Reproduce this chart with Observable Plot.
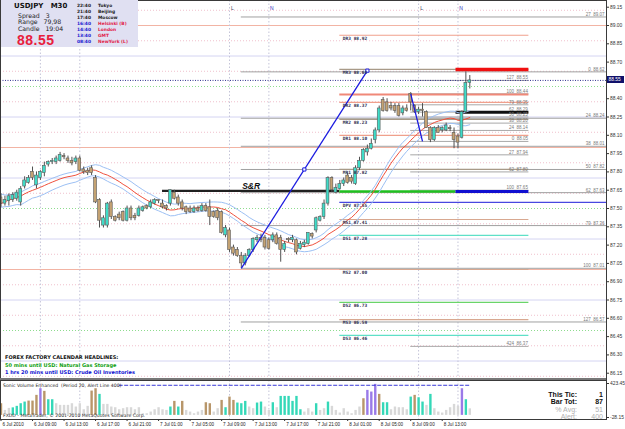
<!DOCTYPE html>
<html><head><meta charset="utf-8">
<script src="https://cdn.jsdelivr.net/npm/d3@7"></script>
<script src="https://cdn.jsdelivr.net/npm/@observablehq/plot@0.6"></script>
<style>
body{margin:0;background:#fff;width:625px;height:429px;overflow:hidden;position:relative;font-family:"Liberation Sans",Arial,sans-serif}
#main,#vol{position:absolute;left:0}
#main{top:0} #vol{top:380px}
.ov{position:absolute;white-space:pre;line-height:1}
.bx{position:absolute}
</style></head><body>
<div id="main"></div><div id="vol"></div>
<script>
// ---------- DATA ----------
const symbol = "USDJPY", timeframe = "M30";
const startTime = "2010-07-06T05:00:00Z"; // first bar, 30-minute bars
const opens = [87.59,87.54,87.56,87.57,87.58,87.55,87.68,87.71,87.80,87.69,
87.75,87.79,87.86,87.88,87.88,87.89,87.93,87.91,87.89,87.88,
87.91,87.82,87.81,87.83,87.75,87.57,87.36,87.36,87.55,87.43,
87.45,87.47,87.40,87.50,87.44,87.44,87.48,87.52,87.51,87.54,
87.57,87.54,87.52,87.54,87.63,87.59,87.55,87.51,87.50,87.47,
87.50,87.48,87.52,87.51,87.47,87.48,87.47,87.28,87.32,87.18,
87.16,87.11,87.05,87.11,87.16,87.24,87.26,87.26,87.24,87.24,
87.28,87.26,87.16,87.25,87.24,87.24,87.17,87.20,87.21,87.29,
87.32,87.40,87.43,87.54,87.75,87.63,87.66,87.70,87.77,87.75,
87.70,87.83,87.89,87.96,87.99,88.06,88.14,88.39,88.37,88.34,
88.34,88.34,88.28,88.32,88.44,88.34,88.29,88.31,88.29,88.16,
88.06,88.16,88.14,88.14,88.16,88.12,88.09,88.08,88.29,88.53];
const highs = [87.62,87.60,87.62,87.63,87.65,87.68,87.76,87.77,87.84,87.80,
87.81,87.88,87.89,87.91,87.93,87.96,87.95,87.93,87.92,87.93,
87.93,87.84,87.83,87.85,87.77,87.58,87.44,87.55,87.57,87.44,
87.47,87.48,87.52,87.52,87.46,87.52,87.52,87.53,87.57,87.58,
87.57,87.57,87.53,87.65,87.65,87.61,87.57,87.52,87.52,87.52,
87.52,87.54,87.54,87.57,87.48,87.50,87.48,87.36,87.34,87.20,
87.18,87.14,87.13,87.17,87.26,87.28,87.29,87.28,87.26,87.30,
87.30,87.28,87.23,87.26,87.28,87.25,87.23,87.24,87.30,87.30,
87.43,87.44,87.57,87.76,87.76,87.70,87.73,87.75,87.79,87.77,
87.85,87.92,87.99,88.02,88.07,88.16,88.34,88.41,88.40,88.37,
88.36,88.36,88.34,88.35,88.45,88.35,88.33,88.36,88.30,88.17,
88.17,88.18,88.17,88.20,88.18,88.16,88.11,88.30,88.62,88.59];
const lows = [87.51,87.52,87.52,87.55,87.56,87.52,87.66,87.70,87.73,87.66,
87.73,87.76,87.84,87.86,87.86,87.88,87.90,87.87,87.85,87.86,
87.80,87.78,87.77,87.77,87.54,87.34,87.34,87.34,87.41,87.39,
87.40,87.39,87.39,87.40,87.40,87.43,87.47,87.49,87.50,87.53,
87.54,87.50,87.48,87.52,87.57,87.52,87.48,87.45,87.46,87.46,
87.47,87.47,87.47,87.36,87.42,87.40,87.29,87.26,87.14,87.11,
87.10,87.01,87.03,87.10,87.14,87.22,87.22,87.16,87.16,87.22,
87.20,87.06,87.14,87.22,87.22,87.12,87.16,87.18,87.20,87.25,
87.30,87.39,87.41,87.52,87.63,87.62,87.65,87.68,87.70,87.70,
87.69,87.81,87.88,87.93,87.98,88.03,88.12,88.29,88.29,88.30,
88.28,88.25,88.26,88.29,88.30,88.28,88.27,88.25,88.16,88.04,
88.05,88.12,88.12,88.13,88.13,87.99,87.99,88.07,88.28,88.48];
const closes = [87.54,87.57,87.60,87.61,87.63,87.66,87.73,87.75,87.75,87.77,
87.80,87.85,87.88,87.89,87.91,87.94,87.92,87.89,87.87,87.91,
87.81,87.80,87.79,87.79,87.55,87.40,87.42,87.54,87.43,87.40,
87.42,87.40,87.50,87.42,87.42,87.50,87.51,87.50,87.55,87.57,
87.56,87.51,87.50,87.65,87.58,87.54,87.50,87.47,87.47,87.50,
87.48,87.52,87.48,87.43,87.43,87.42,87.30,87.34,87.16,87.13,
87.11,87.05,87.11,87.16,87.25,87.26,87.24,87.18,87.17,87.28,
87.21,87.16,87.21,87.24,87.26,87.14,87.21,87.22,87.30,87.27,
87.42,87.43,87.54,87.75,87.65,87.67,87.70,87.73,87.71,87.72,
87.83,87.89,87.98,87.99,88.03,88.14,88.32,88.30,88.30,88.32,
88.30,88.26,88.32,88.30,88.37,88.29,88.31,88.30,88.16,88.06,
88.16,88.12,88.16,88.18,88.15,88.06,88.04,88.29,88.53,88.55];
const volumes = [155,66,93,100,120,155,177,190,190,266,
354,319,208,208,155,133,133,133,155,111,
155,75,120,323,354,279,146,146,111,102,
75,89,102,102,75,102,22,22,44,75,
102,75,66,111,186,111,186,66,44,22,
44,66,168,155,44,89,199,102,243,199,
164,155,186,111,89,164,177,111,66,168,
102,252,252,252,186,252,75,44,89,44,
155,66,89,177,120,66,31,89,44,22,
66,111,221,332,310,412,279,168,168,75,
111,102,102,75,243,266,234,177,133,279,
89,44,31,66,102,146,120,354,208,87];
// volume bar class: g = low, t = bull climax, b = bear climax, p = churn
const volClass = ("bggttttbbb"+"pbttgggggg"+"gggbbtgggg"+"gggggggggg"+"gggtbtbggg"+
"ggbbggbtbb"+"tttggttggt"+"gttttttggg"+"tggtgggggg"+"ggbpppbttg"+
"ggggtbttgt"+"gggggggptg").split("");
const currentPrice = 88.55;
const priceTicks = [89.15,89.00,88.85,88.70,88.55,88.40,88.25,88.10,87.95,87.80,87.65,87.50,87.35,87.20,87.05,86.90,86.75,86.60,86.45,86.30,86.15];
const volTicks = [423.45,-28.15];
const timeTickTimes = ["2010-07-06T05:00Z","2010-07-06T09:00Z","2010-07-06T13:00Z","2010-07-06T17:00Z","2010-07-06T21:00Z","2010-07-07T01:00Z","2010-07-07T05:00Z","2010-07-07T09:00Z","2010-07-07T13:00Z","2010-07-07T17:00Z","2010-07-07T21:00Z","2010-07-08T01:00Z","2010-07-08T05:00Z","2010-07-08T09:00Z","2010-07-08T13:00Z"];
const timeTickLabels = ["6 Jul 2010","6 Jul 09:00","6 Jul 13:00","6 Jul 17:00","6 Jul 21:00","7 Jul 01:00","7 Jul 05:00","7 Jul 09:00","7 Jul 13:00","7 Jul 17:00","7 Jul 21:00","8 Jul 01:00","8 Jul 05:00","8 Jul 09:00","8 Jul 13:00"];
// round-number levels (every 1/8 yen)
const roundLevels = [89.125,89.00,88.875,88.75,88.625,88.50,88.375,88.25,88.125,88.00,87.875,87.75,87.625,87.50,87.375,87.25,87.125,87.00,86.875,86.75,86.625,86.50,86.375,86.25,86.125];
// session markers (labels shown for 7 and 8 Jul; 6 Jul ones sit under the info panel)
const sessionTimes = ["2010-07-06T10:00Z","2010-07-06T15:00Z","2010-07-07T10:00Z","2010-07-07T15:00Z","2010-07-08T10:00Z","2010-07-08T15:00Z"];
const sessionLabels = ["","","L","N","L","N"];
// pivot levels (valid 8 Jul)
const pivotNames = ["DR3","MR3","DR2","MR2","DR1","MR1","DPV","MS1","DS1","MS2","DS2","MS3","DS3"];
const pivotValues = [88.92,88.64,88.37,88.23,88.10,87.82,87.55,87.41,87.28,87.00,86.73,86.59,86.46];
const pivotStart = "2010-07-08T00:00Z", pivotEnd = "2010-07-09T00:00Z";
// fibonacci set 1 (7 Jul low -> high)
const fib1Start = "2010-07-07T11:30Z";
const fib1Levels = ["27","0","24","38","50","62","79","100","127"];
const fib1Prices = [89.07,88.62,88.24,88.01,87.82,87.63,87.36,87.01,86.57];
// fibonacci set 2 (8 Jul swing)
const fib2Start = "2010-07-08T09:00Z", fib2End = "2010-07-09T00:00Z";
const fib2Levels = ["127","100","79","62","50","38","24","0","27","62","100","424"];
const fib2Prices = [88.55,88.44,88.35,88.29,88.25,88.20,88.14,88.05,87.94,87.80,87.65,86.37];
// trend lines
const trendStarts = ["2010-07-07T11:30Z","2010-07-08T09:00Z"];
const trendStartPrices = [87.01,88.44];
const trendEnds = ["2010-07-08T03:30Z","2010-07-08T10:30Z"];
const trendEndPrices = [88.63,88.05];
// support / resistance segments
const srNames = ["S&R","green","blue","red","black","salmon"];
const srPrices = [87.645,87.64,87.64,88.64,88.29,88.435];
const srStarts = ["2010-07-07T01:30Z","2010-07-08T00:00Z","2010-07-08T14:45Z","2010-07-08T14:45Z","2010-07-08T14:45Z","2010-07-08T00:00Z"];
const srEnds = ["2010-07-08T00:00Z","2010-07-08T14:45Z","2010-07-09T00:00Z","2010-07-09T00:00Z","2010-07-09T00:00Z","2010-07-09T00:00Z"];
const alertLevel = 400, alertStart = "2010-07-06T20:00Z";
const infoLeft = [["Spread","3"],["Range","79,98"],["Candle","19:04"]];
const clockTimes = ["22:40","21:40","17:40","16:40","14:40","13:40","08:40"];
const clockCities = ["Tokyo","Beijing","Moscow","Helsinki (B)","London","GMT","NewYork (L)"];
const headlines = ["FOREX FACTORY CALENDAR HEADLINES:","50 mins until USD: Natural Gas Storage","1 hrs 20 mins until USD: Crude Oil Inventories"];
const volStatsNames = ["This Tic:","Bar Tot:","% Avg:","Alert:"];
const volStatsValues = ["1","87","51","400"];

// ---------- BUILD ----------
const BAR = 30*60*1000;
const t0 = Date.parse(startTime);
const D = s => new Date(Date.parse(s));
const bars = opens.map((o,i)=>({date:new Date(t0+i*BAR),open:o,high:highs[i],low:lows[i],close:closes[i],vol:volumes[i],vc:volClass[i]}));
const xDomain = [new Date(t0-0.127*BAR), new Date(t0+153.7*BAR)];
const pxPerUnit = 122, mainH = 380;
const yTop = 89.205, yBot = yTop - mainH/pxPerUnit;

const bullFill="#3fdcc8", bearFill="#c4a272", candleEdge="#5a5a5a";
const pivotColor = n => n==="DPV" ? "#4848e0" : n.startsWith("DR") ? "#f0a08c" : n.startsWith("DS") ? (n==="DS2"?"#6ad46a":"#5fe0c8") : n.startsWith("MR") ? "#a89a88" : "#d8a890";
const srColor = {"S&R":"#202020",green:"#20c020",blue:"#1010d0",red:"#f01010",black:"#101010",salmon:"#f08878"};
const srWidth = {"S&R":2.2,green:2.5,blue:3,red:3.5,black:3,salmon:2};
const volColor = {g:"#d8d8d8",t:"#34d8b8",b:"#b8966a",p:"#9a7ae8"};
const frac = v => Math.round((v - Math.floor(v))*1000);
const roundStyle = v => { const f = frac(v);
  if (f===0) return {s:"#f2b4a4", d:null};
  if (f===500) return {s:"#8edc8e", d:"1,2"};
  if (f===250 || f===750) return {s:"#d4d4f2", d:null};
  return {s:"#f0c0cc", d:"1,2"}; };

const pivots = pivotNames.map((n,i)=>({name:n,v:pivotValues[i]}));
const fib1 = fib1Levels.map((l,i)=>({l,v:fib1Prices[i]}));
const fib2 = fib2Levels.map((l,i)=>({l,v:fib2Prices[i]}));
const trends = trendStarts.map((s,i)=>({x1:D(s),y1:trendStartPrices[i],x2:D(trendEnds[i]),y2:trendEndPrices[i]}));
const srs = srNames.map((n,i)=>({n,v:srPrices[i],a:D(srStarts[i]),b:D(srEnds[i])}));
const sessions = sessionTimes.map((s,i)=>({t:D(s),l:sessionLabels[i]}));
const handles = [{x:new Date((+trends[0].x1 + +trends[0].x2)/2), y:(trends[0].y1+trends[0].y2)/2},{x:trends[0].x2,y:trends[0].y2}];
const half = 0.36*BAR;
const shownTicks = priceTicks.filter(t=>t!==currentPrice); // current price tag covers its tick
const solidRounds = roundLevels.filter(v=>!roundStyle(v).d);
const dottedRounds = roundLevels.filter(v=>roundStyle(v).d);

const main = Plot.plot({
  width:625, height:mainH, marginLeft:0, marginRight:19, marginTop:0, marginBottom:0,
  x:{type:"utc", domain:xDomain, axis:null, label:null},
  y:{domain:[yBot,yTop], axis:"right", label:null, ticks:shownTicks, tickFormat:d=>d.toFixed(2), tickSize:2, tickPadding:1.5},
  style:{fontSize:"4.9px", fontFamily:"Liberation Sans, Arial, sans-serif", background:"#fff", overflow:"visible", color:"#333"},
  marks:[
    Plot.ruleY(solidRounds,{y:d=>d, stroke:d=>roundStyle(d).s, strokeWidth:1}),
    Plot.ruleY(dottedRounds,{y:d=>d, stroke:d=>roundStyle(d).s, strokeWidth:1, strokeDasharray:"1,2"}),
    Plot.ruleX(sessions,{x:"t", stroke:"#c4c4d8", strokeDasharray:"1.5,2"}),
    Plot.text(sessions.filter(d=>d.l),{x:"t", text:"l", frameAnchor:"top", dy:6, dx:3, fontSize:5, fill:d=>d.l==="N"?"#3030c0":"#404060"}),
    Plot.ruleY(fib1,{y:"v", x1:()=>D(fib1Start), x2:()=>xDomain[1], stroke:"#a0a0a0", strokeWidth:1}),
    Plot.ruleY(fib2,{y:"v", x1:()=>D(fib2Start), x2:()=>D(fib2End), stroke:"#a8a8a8", strokeWidth:1}),
    Plot.ruleY(pivots,{y:"v", x1:()=>D(pivotStart), x2:d=>d.name==="DPV"?xDomain[1]:D(pivotEnd), stroke:d=>pivotColor(d.name), strokeWidth:1.2}),
    Plot.ruleY(srs,{y:"v", x1:"a", x2:"b", stroke:d=>srColor[d.n], strokeWidth:d=>srWidth[d.n]}),
    Plot.ruleY([currentPrice],{stroke:"#303090", strokeDasharray:"1,1.5", strokeWidth:1}),
    Plot.lineY(bars, Plot.windowY({k:20, anchor:"end"}, {x:"date", y:"high", stroke:"#9cc0f4", strokeWidth:1})),
    Plot.lineY(bars, Plot.windowY({k:20, anchor:"end"}, {x:"date", y:"low", stroke:"#9cc0f4", strokeWidth:1})),
    Plot.lineY(bars, Plot.windowY({k:20, anchor:"end"}, {x:"date", y:"close", stroke:"#f0503c", strokeWidth:1})),
    Plot.ruleX(bars,{x:"date", y1:"low", y2:"high", stroke:"#505050", strokeWidth:1}),
    Plot.rect(bars,{x1:d=>new Date(+d.date-half), x2:d=>new Date(+d.date+half), y1:"open", y2:"close", fill:d=>d.close>=d.open?bullFill:bearFill, stroke:candleEdge, strokeWidth:0.6}),
    Plot.link(trends,{x1:"x1",y1:"y1",x2:"x2",y2:"y2", stroke:"#1a1ae0", strokeWidth:1.3}),
    Plot.dot(handles,{x:"x",y:"y", symbol:"square", r:1.8, fill:"#fff", stroke:"#1a1ae0", strokeWidth:1}),
    Plot.text(pivots,{x:()=>D(pivotStart), y:"v", text:d=>`${d.name} ${d.v.toFixed(2)}`, dx:3, dy:3.5, textAnchor:"start", fontSize:4.5, fontWeight:"bold", fontFamily:"DejaVu Sans Mono", fill:"#2e2e50"}),
    Plot.text(fib1,{x:()=>xDomain[1], y:"v", text:d=>`${d.l}  ${d.v.toFixed(2)}`, dx:-2, dy:-2.5, textAnchor:"end", fontSize:4.5, fill:"#7a7a7a"}),
    Plot.text(fib2,{x:()=>D(fib2End), y:"v", text:d=>`${d.l}  ${d.v.toFixed(2)}`, dx:-1, dy:-2.5, textAnchor:"end", fontSize:4.5, fill:"#7a7a7a"}),
    Plot.text(srs.filter(d=>d.n==="S&R"),{x:d=>new Date((+d.a + +d.b)/2), y:"v", text:"n", dy:-5, fontSize:8.5, fontWeight:"bold", fontStyle:"italic", fill:"#111"}),
    Plot.frame({stroke:"#3a3a3a"})
  ]
});
document.getElementById("main").appendChild(main);

const vol = Plot.plot({
  width:625, height:49, marginLeft:0, marginRight:19, marginTop:0, marginBottom:10,
  x:{type:"utc", domain:xDomain, label:null, ticks:timeTickTimes.map(D), tickFormat:()=>"", tickSize:2},
  y:{domain:[-54.7,463.3], axis:"right", label:null, ticks:volTicks, tickFormat:d=>d.toFixed(2), tickSize:2, tickPadding:1.5},
  style:{fontSize:"4.9px", fontFamily:"Liberation Sans, Arial, sans-serif", background:"transparent", overflow:"visible", color:"#333"},
  marks:[
    Plot.ruleX(sessions,{x:"t", stroke:"#c4c4d8", strokeDasharray:"1.5,2"}),
    Plot.ruleX(bars,{x:"date", y1:0, y2:"vol", stroke:d=>volColor[d.vc], strokeWidth:2.4}),
    Plot.ruleY([alertLevel],{x1:()=>D(alertStart), x2:()=>bars[bars.length-1].date, stroke:"#3838d8", strokeDasharray:"4,1.5", strokeWidth:1}),
    Plot.text(timeTickTimes,{x:d=>D(d), text:(d,i)=>timeTickLabels[i], frameAnchor:"bottom", dy:5, dx:1.5, textAnchor:"start", lineAnchor:"middle", fontSize:4.6, fill:"#222"}),
    Plot.frame({stroke:"#3a3a3a"})
  ]
});
document.getElementById("vol").appendChild(vol);

// ---------- OVERLAY TEXT ----------
function ov(txt, css){const d=document.createElement("div");d.className="ov";d.textContent=txt;Object.assign(d.style,css);document.body.appendChild(d);return d;}
function box(css){const d=document.createElement("div");d.className="bx";Object.assign(d.style,css);document.body.appendChild(d);return d;}
box({left:"0px",top:"378px",width:"606px",height:"2px",background:"#777"});
box({left:"1px",top:"0px",width:"137px",height:"47px",background:"#e0e0f2"});
ov(`${symbol}   ${timeframe}`,{left:"14px",top:"2px",font:"bold 7px 'DejaVu Sans'",color:"#111"});
infoLeft.forEach((r,i)=>{ov(`${r[0]}   ${r[1]}`,{left:"18px",top:(11.5+i*6.5)+"px",font:"6.2px 'DejaVu Sans'",color:"#222"});});
ov(currentPrice.toFixed(2),{left:"17px",top:"32px",font:"bold 14px 'Liberation Sans'",color:"#e8203c",letterSpacing:"0.5px"});
clockTimes.forEach((t,i)=>{
  const y=(3.3+i*5.9)+"px";
  ov(t,{left:"77px",top:y,font:"bold 4.4px 'DejaVu Sans'",color:i<3?"#222":"#2020d0"});
  ov(clockCities[i],{left:"98px",top:y,font:"bold 4.4px 'DejaVu Sans'",color:i<3?"#222":"#e02048"});
});
headlines.forEach((h,i)=>{ov(h,{left:"5px",top:[353.5,362,369][i]+"px",font:"bold 5px 'DejaVu Sans'",color:["#111","#10a010","#1010d0"][i]});});
ov("Sonic Volume Enhanced  (Period 20, Alert Line 400)",{left:"3px",top:"382.5px",font:"4.6px 'DejaVu Sans'",color:"#222"});
ov("FXDD - MetaTrader, \u00a9 2001-2010 MetaQuotes Software Corp.",{left:"3px",top:"413px",font:"4.6px 'DejaVu Sans'",color:"#222"});
volStatsNames.forEach((n,i)=>{
  const top=(391+i*7.3)+"px", c=i<2?"#111":"#b0b0b0", w=i<2?"bold":"normal";
  ov(n,{left:"520px",width:"57px",textAlign:"right",top,font:`${w} 7px 'Liberation Sans'`,color:c});
  ov(volStatsValues[i],{left:"580px",width:"23px",textAlign:"right",top,font:`${w} 7px 'Liberation Sans'`,color:c});
});
const py = main.scale("y").apply(currentPrice);
box({left:"607px",top:(py-3.5)+"px",width:"17px",height:"7px",background:"#10106a"});
ov(currentPrice.toFixed(2),{left:"608.5px",top:(py-2.6)+"px",font:"4.9px 'Liberation Sans'",color:"#fff"});
</script>
</body></html>
